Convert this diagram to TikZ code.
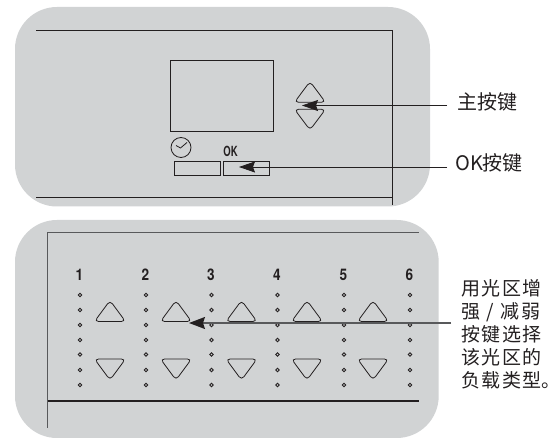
\documentclass[tikz,border=0pt]{standalone}
\usepackage{fontspec}
\usetikzlibrary{arrows.meta}
\newfontfamily\cjk{Noto Sans CJK SC}
\newfontfamily\cjkspaced[LetterSpace=8]{Noto Sans CJK SC}
\setsansfont{TeX Gyre Heros}
\definecolor{panelgrey}{HTML}{D1D3D4}
\definecolor{ink}{HTML}{231F20}
\definecolor{midink}{HTML}{58595B}
\tikzset{
  panel/.style={fill=panelgrey,draw=none,rounded corners=42pt},
  rule/.style={draw=ink,line width=0.9pt},
  softrule/.style={draw=midink,line width=1.1pt},
  outline/.style={draw=ink,line width=0.8pt},
  boxnode/.style={draw=ink,line width=0.8pt,inner sep=0pt},
  tri/.style={draw=ink,line width=0.8pt,rounded corners=4pt},
  led/.style={draw=ink,line width=0.85pt},
  leader/.style={draw=ink,line width=0.8pt,-{Stealth[length=16pt,width=11pt,inset=2pt]}},
  softleader/.style={draw=midink,line width=1.4pt,-{Stealth[ink,length=16pt,width=12pt,inset=2pt]}},
  cnlabel/.style={inner sep=0pt,text=ink,font=\cjk\fontsize{20}{23}\selectfont},
  okmark/.style={inner sep=0pt,text=ink,font=\sffamily\bfseries\fontsize{14}{14}\selectfont,xscale=.68},
  zonenum/.style={inner sep=0pt,text=ink,font=\sffamily\bfseries\fontsize{16}{16}\selectfont,xscale=.85}
}
\begin{document}
\begin{tikzpicture}[x=1pt,y=-1pt]
\useasboundingbox (0,0) rectangle (554,438);
% upper panel
\fill[panel] (15,7) rectangle (430,206.5);
\draw[rule] (36,30) -- (392.7,30) -- (392.7,205);
\draw[rule] (36,197.5) -- (392.7,197.5);
\node[boxnode,minimum width=102.5pt,minimum height=71pt] (screen) at (221.75,96) {};
\draw[outline] (181,147.5) circle (10);
\draw[outline] (187,142.5) -- (180.5,148) -- (176,145.5);
\node[boxnode,minimum width=45.5pt,minimum height=14.5pt] (btnclock) at (197.25,168.25) {};
\node[boxnode,minimum width=46.5pt,minimum height=14.5pt] (btnok) at (246.25,168.25) {};
\node[okmark] (oktext) at (230.5,151) {OK};
\draw[tri] (310,81.5) -- (325.5,102.3) -- (294.5,102.3) -- cycle;
\draw[tri] (310,130) -- (325.5,109.3) -- (294.5,109.3) -- cycle;
\coordinate (maintip) at (302,105.5);
\coordinate (mainend) at (447,105.5);
\coordinate (oktip) at (239,167);
\coordinate (okend) at (447,167);
\draw[leader] (mainend) -- (maintip);
\draw[leader] (okend) -- (oktip);
\node[cnlabel,anchor=west] (mainlabel) at (457,102) {主按键};
\node[cnlabel,anchor=west] (oklabel) at (455,163) {OK按键};
% lower panel
\fill[panel] (15,220) rectangle (438.7,438);
\draw[softrule] (47.5,232.5) -- (419,232.5);
\draw[softrule] (47.5,232.5) -- (47.5,428);
\draw[rule,line width=1.1pt] (47.5,401) -- (419,401);
\foreach \n/\x in {1/79.5,2/145.5,3/211,4/277,5/343.5,6/409.5}{
  \node[zonenum] (zone\n) at (\x,274.5) {\n};
  \foreach \y in {295,310,325,340,354.5,370,385}
    \draw[led] (\x+.5,\y) circle (1.7);
}
\foreach \x in {110,176,241.5,307,373}{
  \draw[tri] (\x,300.5) -- (\x+15.5,321.5) -- (\x-15.5,321.5) -- cycle;
  \draw[tri] (\x,380) -- (\x+15.5,359) -- (\x-15.5,359) -- cycle;
}
\coordinate (zonetip) at (189,323);
\coordinate (zoneend) at (451,323);
\draw[softleader] (zoneend) -- (zonetip);
\node[cnlabel,anchor=north west,align=left,font=\cjkspaced\fontsize{19}{23}\selectfont] (zonelabel) at (461,279)
  {用光区增\\强\makebox[20.5pt][c]{/}减弱\\按键选择\\该光区的\\负载类型\rlap{。}};
\end{tikzpicture}
\end{document}
